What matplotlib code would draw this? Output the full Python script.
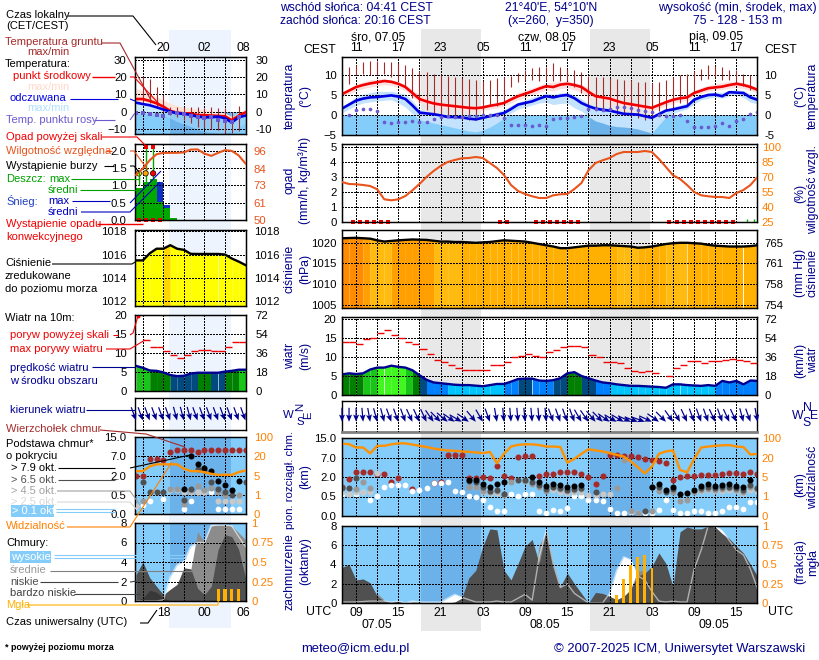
import numpy as np
import matplotlib
matplotlib.use('Agg')
import matplotlib.pyplot as plt
from matplotlib.patches import Rectangle

plt.rcParams['font.family'] = ['Liberation Sans', 'DejaVu Sans']
plt.rcParams['font.size'] = 8.2

W, H = 820, 660
nan = float('nan')

# ---- main meteogram, hourly, hours counted from 07.05 00 UTC ----
hours = np.arange(7, 67)
temp_mid = [5.2,6.1,7.0,7.5,7.9,8.2,8.5,8.3,7.8,7.0,
            5.5,4.0,3.4,2.9,2.6,2.4,2.2,2.0,1.8,1.7,
            1.9,2.3,2.6,3.0,3.9,4.7,5.3,5.9,6.6,7.2,
            7.0,7.6,7.8,7.5,7.0,5.8,4.7,4.4,4.1,3.5,
            3.0,2.7,2.4,2.1,1.8,2.5,3.2,3.8,4.2,4.4,
            5.5,6.1,6.7,6.9,7.1,7.5,7.8,7.5,7.0,6.3]
temp_max = [5.4,6.5,7.6,8.3,8.8,9.0,9.0,8.8,8.3,7.6,
            6.4,5.0,4.2,3.6,3.2,3.0,2.8,2.6,2.4,2.2,
            2.3,2.6,3.0,3.4,4.6,5.6,6.2,6.8,7.4,8.0,
            8.2,8.4,8.5,8.2,7.6,6.8,5.5,5.0,4.6,4.0,
            3.5,3.2,2.9,2.6,2.2,3.0,3.7,4.3,4.6,5.0,
            6.1,6.9,7.4,7.8,8.1,8.4,8.4,8.2,7.6,6.7]
temp_min = [4.6,5.3,6.0,6.6,7.0,7.3,7.6,7.4,6.9,6.0,
            4.5,3.2,2.6,2.1,1.8,1.6,1.4,1.2,1.0,1.0,
            1.2,1.5,1.8,2.2,3.0,3.8,4.4,5.0,5.7,6.2,
            6.0,6.6,6.8,6.3,5.6,4.6,3.7,3.4,3.2,2.6,
            2.2,1.9,1.6,1.3,1.0,1.6,2.4,3.0,3.4,3.6,
            4.7,5.4,5.9,6.2,6.4,6.7,6.9,6.6,6.1,5.5]
feel_mid = [1.6,2.6,3.6,4.1,4.4,4.5,4.7,4.9,4.6,4.0,
            2.4,0.6,0.4,0.2,-0.1,-0.5,-0.5,-0.6,-0.9,-1.1,
            -0.7,-0.3,0.1,0.5,1.5,2.6,3.0,3.4,4.1,4.7,
            4.4,4.8,5.0,4.2,3.0,2.2,1.6,1.3,1.1,0.7,
            0.3,0.2,0.1,-0.3,-0.7,0.2,1.1,1.4,1.8,2.2,
            3.8,4.5,5.0,5.1,4.7,5.7,5.6,5.5,4.4,3.8]
feel_max = [2.0,3.2,4.6,5.2,5.6,5.9,5.9,5.9,5.6,5.2,
            3.6,1.4,0.9,0.5,0.2,-0.2,-0.1,-0.2,-0.4,-0.6,
            -0.2,0.3,0.8,1.3,2.4,3.2,3.8,4.4,5.0,5.4,
            5.2,5.5,5.7,5.0,4.0,2.9,2.2,2.0,1.6,1.2,
            0.8,0.7,0.6,0.2,-0.2,0.9,1.6,2.0,2.5,3.0,
            4.6,5.1,5.6,5.8,5.6,6.2,6.3,6.1,5.2,4.4]
feel_min = [0.5,1.5,2.4,3.0,3.3,3.5,3.7,3.8,3.0,2.0,
            0.3,-1.2,-1.6,-2.0,-2.4,-2.8,-3.2,-3.6,-4.0,-4.2,
            -3.8,-3.0,-2.0,-0.8,0.5,1.5,2.0,2.5,3.0,3.2,
            2.6,2.9,3.0,1.8,1.0,-0.4,-1.5,-2.0,-2.6,-2.9,
            -3.0,-3.2,-3.5,-4.0,-4.5,-2.5,-0.5,0.4,1.0,1.5,
            2.8,3.8,4.2,4.5,4.2,4.8,5.0,4.4,3.2,2.8]
dew = [nan,0.1,1.2,1.6,1.6,1.0,-1.7,-2.0,-1.8,-1.8,
       -1.6,-1.8,-1.8,-1.0,-0.5,-0.3,-0.5,-0.5,-0.3,-0.3,
       -0.1,0.1,-0.1,-0.7,-2.5,-2.5,-2.5,-2.8,-2.6,-2.8,
       -1.0,-0.75,-0.7,-0.5,-0.3,1.6,1.6,1.3,1.6,1.9,
       1.9,1.7,1.2,0.9,0.7,0.1,-0.3,-0.3,0.1,-1.5,
       -2.9,-2.9,-2.9,-2.7,-2.1,-2.7,-1.5,-1.0,0.2,0.8]
ground_hi = [nan,12.0,12.6,13.2,13.6,13.4,13.2,13.2,13.0,12.5,
             11.8,10.9,10.8,10.3,9.9,9.7,9.5,9.2,9.0,8.7,
             8.6,8.8,9.2,9.5,9.8,10.5,11.3,11.7,11.9,12.1,
             13.0,11.9,11.5,11.2,10.7,9.7,9.5,9.5,9.2,9.0,
             8.8,8.7,8.3,8.2,8.0,8.2,8.8,9.5,10.0,10.3,
             10.9,11.6,12.4,12.2,11.9,11.3,11.2,10.3,10.1,nan]
ground_lo = [nan,7.75,10.1,10.3,10.1,10.1,10.3,9.5,8.4,7.0,
             4.2,3.0,1.2,0.5,-0.1,-0.3,-0.7,-1.0,-1.2,-1.3,
             0.2,2.2,2.2,3.0,7.0,8.3,8.8,8.8,8.6,8.8,
             8.4,8.4,8.4,7.0,5.5,2.2,1.3,0.9,1.3,0.1,
             0.1,-0.3,-0.7,-1.3,-0.3,0.9,1.1,2.0,3.0,2.2,
             5.5,8.8,9.0,9.4,8.8,8.8,8.0,7.3,6.3,nan]
humidity = [65,63,62.7,62,61,57.7,47.7,46.7,47.7,51,
            56.7,63,70,76,81,85,87,88.7,89,90,
            89,84,79,72,62,56,53,50.7,49,49,
            51.7,52.7,53,58,64,76.7,84,86.7,89,93,
            95,95,95,96,95,88,80,71.7,68,62,
            55,51.7,50.7,50,50,49,54,57,62,70]
conv_times = [8.5,9.5,10.5,11.5,12.5,13.5,29.5,30.5,34.5,35.5,36.5,37.5,38.5,39.5,40.5,
              53.5,54.5,55.5,56.5,57.5,58.5,59.5,60.5,61.5,62.5]
rain_times = [64.5,65.5]
rain_values = [0.2,0.2]
pressure = [1021.1,1021.15,1021.2,1021.1,1021.0,1020.6,1020.3,1020.45,1020.6,1020.7,
            1020.8,1020.75,1020.7,1020.5,1020.3,1020.3,1020.2,1020.2,1020.1,1020.0,
            1020.1,1020.2,1020.4,1020.6,1020.5,1020.4,1020.3,1020.0,1019.7,1019.4,
            1019.1,1018.7,1018.7,1018.9,1019.1,1019.3,1019.3,1019.4,1019.4,1019.3,
            1019.2,1019.1,1018.8,1018.9,1019.1,1019.4,1019.7,1019.9,1020.0,1020.0,
            1019.9,1019.8,1019.5,1019.3,1019.2,1019.1,1019.1,1019.1,1019.2,1019.4]
pressure_cls = [0,0,0,1,3,3,3,1,1,1,
                1,1,1,3,3,3,3,2,2,2,
                2,2,2,2,2,2,2,2,2,2,
                2,2,2,2,2,2,2,2,2,3,
                3,3,2,2,2,2,3,3,3,2,
                2,2,2,2,2,2,2,2,2]
wind = [5.4,5.7,5.5,5.7,6.7,7.2,7.2,7.7,7.4,7.2,
        6.5,5.2,4.0,3.3,3.1,2.9,2.7,2.6,2.6,2.45,
        2.3,2.6,2.9,2.9,3.5,4.2,4.3,4.3,3.8,3.7,
        3.9,4.4,5.7,6.0,5.0,4.4,3.8,3.3,3.1,2.8,
        2.6,2.4,2.4,2.3,2.2,2.1,1.9,2.8,2.8,2.6,
        2.5,2.4,2.6,2.4,3.7,3.3,3.7,2.8,3.8,3.7]
wind_cls = [0,0,0,1,1,2,2,2,2,1,
            0,3,4,4,4,5,5,5,5,5,
            5,5,5,4,4,3,3,4,4,4,
            3,3,0,0,3,3,4,4,5,5,
            5,5,5,5,5,5,5,5,5,5,
            5,5,5,4,4,4,4,4,4]
gust = [13.8,13.8,13.3,14.6,15.1,16.2,17.0,15.9,15.0,14.0,
        13.4,12.2,10.9,9.1,8.6,7.8,7.2,6.7,6.5,6.5,
        6.7,7.8,8.0,8.6,9.9,10.3,10.7,10.3,10.0,11.4,
        11.7,12.5,13.0,13.0,12.5,10.4,9.9,8.7,8.6,8.3,
        7.0,6.2,6.0,6.2,5.9,nan,4.9,7.2,8.0,9.0,
        9.0,8.4,8.9,8.9,9.2,9.5,9.2,8.9,8.4]
wind_dir = [0,0,0,5,10,15,15,20,20,20,
            25,25,25,35,45,50,55,60,55,40,
            30,20,10,5,5,5,5,5,5,5,
            20,20,20,20,30,35,40,45,55,60,
            60,65,70,70,65,55,45,35,30,25,
            20,20,20,25,20,25,25,15,20,10]
top_t = [7,8,9,10,11,12,13,14,15,17,20,21,22,23,24,25,26,27,28,29,30,31,32,33,34,35,36,
         37,38,39,40,41,42,43,44,45,46,47,48,49,50,51,52,53,54,55,56,57,58,59,60,61,62,63,64,65,66]
top_km = [1.2,1.85,3.3,3.2,3.2,2.7,2.7,1.64,1.9,1.1,1.56,1.64,8.1,8.2,7.9,1.9,1.9,2.1,1.9,4.9,2.3,1.9,7.1,7.8,7.6,2.3,2.8,
          2.8,3.2,3.4,3.4,2.8,2.1,1.5,2.2,7.9,7.9,7.7,7.6,7.1,6.7,6.4,6.0,5.6,1.8,2.1,2.3,2.3,2.4,2.5,2.6,2.7,3.1,2.9,2.8,3.2,2.7]
black_t = [25,26,27,28,29,30,34,35,36,37,38,39,40,41,51,52,53,54,55,56,57,58,59,60,61,62,63,64,65]
black_km = [1.77,1.77,1.5,1.25,1.5,1.64,2.1,1.64,1.33,1.5,1.38,1.25,1.33,1.35,1.25,1.5,0.99,1.25,0.73,0.78,0.99,1.33,1.46,1.33,1.38,1.5,1.33,1.2,1.77]
dark_t = [7,8,9,25,26,27,28,29,30,32,33,34,35,36,37,38,39,40,41,43,50,51,52,53,54,58,59,60,61,62,63,64,65,66]
dark_km = [1.12,1.12,1.95,1.72,1.64,1.25,0.91,0.99,0.73,1.77,1.77,1.64,1.38,1.04,1.25,1.12,0.99,1.04,1.12,0.81,0.14,1.25,1.25,0.86,1.04,1.12,1.2,1.12,1.2,1.25,1.12,0.99,1.38,1.12]
gray_t = [9,10,11,25,26,27,28,29,30,31,33,34,35,36,37,38,39,40,41,46,47,48,49,51,52,54,55,56,57,58,59,60,61,62,63,64,65,66]
gray_km = [1.04,1.59,1.12,1.25,1.2,0.94,0.86,0.91,0.68,1.64,1.69,1.5,1.2,0.94,1.2,1.04,0.91,0.99,1.04,1.12,6.4,0.13,0.08,0.14,0.91,0.86,0.38,0.41,0.86,0.99,1.09,0.99,1.04,1.12,0.99,0.86,1.2,1.04]
light_t = [7,8,9,10,11,12,26,27,28,29,30,37,38,39,40,41,42,43,44,45,58,59,60,61,62,63,64,65,66]
light_km = [0.81,0.73,0.86,0.81,0.81,2.95,1.2,0.86,0.78,0.8,0.6,0.99,0.86,0.78,0.83,0.88,0.6,0.6,0.73,0.73,0.9,1.0,0.9,0.95,1.0,0.9,0.8,1.0,0.9]
white_km = [0.655,0.655,0.655,0.81,0.41,0.53,1.25,1.38,1.38,1.38,
            0.91,0.99,1.12,1.51,1.56,1.61,0.91,0.81,0.53,0.48,
            0.41,0.22,0.14,0.13,0.73,0.55,0.73,0.73,0.14,0.08,
            0.15,0.13,0.21,0.55,0.55,0.42,0.42,0.39,0.19,0.08,
            0.08,0.11,0.08,0.08,0.08,0.15,0.42,0.15,0.08,0.08,
            0.13,0.14,0.08,0.08,0.13,0.22,0.22,0.19,0.36,0.36]
visibility = [76.5,75,61,61,37,68,68,74,78,78,
              73,68,63,57,52,49,47.6,45,43,41,
              38,43,15.6,35,65,72,74,74,71,65,
              65,63,16,19,35,54,49,45,38,31,
              24,17,12.5,7.8,13,35,45,49,10.4,8.6,
              18.7,61,65,68,70,71,65,63,32,35]
cloud_low = [3.7,4.0,2.4,2.5,2.1,0.7,0.2,0.1,0.2,0,
             0.1,0.1,0,0,0,0,0.1,0.5,2.6,3.4,
             5.9,7.7,7.6,3.4,2.4,4.1,5.9,6.6,4.1,7.6,
             4.1,1.7,3.1,2.0,1.0,0,1.1,1.0,0.7,0.35,
             0.7,1.4,2.8,3.1,3.8,5.2,4.1,1.7,7.4,7.9,
             7.7,7.7,8.0,7.9,7.2,6.7,5.9,5.2,4.0,2.8]
cloud_mid = [0,0.1,0.5,0.3,0.5,1.0,0.3,0.1,0.1,0,
             0,0,0,0,0,0,0,0,0,0,
             0,0,0.2,0,0,0,0,0.4,6.0,7.3,
             3.0,0.5,0.3,0.2,0,0,0,0,0,0,
             0.5,1.5,3.3,3.4,1.5,0.2,0,0,0,0,
             0,0,0,0,0,0,0,0,0,0]
cloud_high = [0.1,0.1,0.1,0.15,0.2,0.2,0.2,0.1,0.2,0,
              0.2,0.1,0.1,0.1,0.1,0.5,0.9,0.6,0.35,0.1,
              0.1,0.1,0.2,0.1,0.1,0.5,0.9,0.3,4.8,7.6,
              4.0,1.6,2.0,1.0,0.5,0,0,0,1.0,3.4,
              4.8,4.5,2.8,2.4,1.2,0.2,0.1,0.2,0.1,0.1,
              3.5,5.5,8.0,8.0,7.5,6.5,5.5,5.0,3.5,1.5]
fog_t = [46,47,48,49,50,51]
fog = [0.1,0.31,0.5,0.6,0.62,0.46]
nights = [(18.27,26.68),(42.27,50.68)]

# ---- small legend meteogram on the left ----
l_hours = np.arange(14, 31)
l_temp = [7.3,7.3,6.2,4.8,2.9,0.4,-0.6,-1.0,-1.0,-2.0,-2.1,-2.3,-2.5,-2.7,-5.0,-2.3,-0.4]
l_temp_max = [13.5,12.0,10.6,8.6,6.7,4.8,3.3,2.6,1.9,1.4,1.0,0.5,0,-0.8,-2.9,-0.5,0]
l_temp_min = [6.0,6.0,5.0,3.8,1.8,-0.5,-1.5,-1.8,-2.0,-2.8,-3.0,-3.0,-3.2,-3.5,-5.8,-3.2,-1.2]
l_feel = [5.2,4.4,3.7,2.5,1.2,0,-1.0,-1.3,-1.9,-2.9,-3.3,-3.3,-2.9,-3.8,-6.3,-3.3,-2.3]
l_feel_min = [-1.0,-1.0,-1.0,-1.5,-1.9,-3.8,-5.8,-7.2,-8.7,-10.2,-11.5,-12.2,-12.5,-12.5,-11.5,-9.0,-6.7]
l_dew = [-1.0,-1.0,-1.5,-1.9,-2.3,-1.0,-1.0,-1.3,-2.3,-3.3,-3.5,-2.9,-4.8,-5.4,-5.8,-2.9,nan]
l_ground_hi = [nan,20.6,19.2,14.0,9.6,2.9,2.9,2.9,2.9,2.5,2.3,2.5,1.9,1.9,0,3.3,nan]
l_ground_lo = [nan,4.8,4.8,1.9,0,-1.9,-2.9,-4.8,-6.7,-8.7,-9.6,-10.2,-10.6,-12.5,-12.5,-11.5,nan]
l_rain_start = [13,15,16,17,18,19]
l_rain_width = [2,1,1,1,1,1]
l_rain = [0.94,1.1,1.18,0.53,0.34,0.07]
l_snow = [0,0,0,0.57,0.1,0]
l_rain_max_t = [14.4,15.4,16.5]
l_rain_max = [1.35,2.1,2.1]
l_over_t = [15.4,16.5]
l_over = [2.1,2.1]
l_storm_colors = ['yellow','orange','red']
l_storm = [1.35,1.35,1.35]
l_conv_t = [14.5,15.5,16.5,17.5]
l_humidity = [80,84.3,89.8,93.8,94.7,94.7,94.7,95,96.9,97,94.2,92.7,94.7,96.5,96,93,87.6]
l_pressure = [1015.5,1015.5,1016.1,1016.5,1016.5,1016.8,1016.5,1016.4,1016.06,1016.05,1016.05,1016.05,1016.05,1016.0,1015.66,1015.4,1015.1]
l_wind = [6.6,6.1,5.4,5.3,4.9,4.2,3.9,4.0,4.6,4.8,4.8,4.8,4.8,5.1,5.3,5.6,5.6]
l_wind_cls = [1,1,0,0,0,3,3,3,3,0,0,3,3,0,0,1]
l_gust = [nan,13.3,11.5,11.5,10.4,9.5,8.6,9.6,10.4,10.7,10.7,10.4,10.4,11.5,12.8,12.8]
l_gust_over_t = [14.3]
l_gust_over = [19.7]
l_dir = [20,20,20,20,20,20,15,15,15,20,20,20,20,20,20,20,20]
l_top_km = [2,2,6.3,6.3,5.9,8.8,9.8,9.8,9.8,8.8,9.8,9.8,9.8,9.8,9.8,9.8,9.8]
l_black_t = [21,22,23,24,25,26,27,28,29]
l_black_km = [0.93,7,4.9,3.9,3.1,1.55,1.25,0.88,1.55]
l_dark_t = [15,16,17,18,21,22,23,24,25,26,27,28,30]
l_dark_km = [1.5,0.7,0.7,0.7,0.37,0.93,3.75,3.3,1.5,0.93,0.7,0.5,1.5]
l_gray_t = [15,19,20,21,22,23,24,25,26,27,29]
l_gray_km = [0.35,0.93,0.93,0.26,0.88,1.18,0.88,1.0,0.75,0.5,0.5]
l_light_t = [14,19,20,21,22,23,24,26,27,28,29]
l_light_km = [0.21,0.88,0.88,0.75,0.75,0.75,0.75,0.35,0.35,0.35,0.35]
l_white_t = [15,16,18,21,22,23,24,25,26,27,28,29]
l_white_km = [0.24,0.35,0.38,0.12,0.35,0.75,0.75,0.75,0.12,0.12,0.12,0.12]
l_vis = [8.4,8.4,12.1,13.7,13.7,13.7,13.7,10.3,8.4,8.4,7.6,6.3,5.5,5.5,5.5,7.6,8.9]
l_cloud_low = [2.7,4.0,2.4,1.5,0.65,1.2,1.7,3.4,3.3,1.3,0.65,1.5,5.3,6.8,6.6,5.3,2.4]
l_cloud_vlow = [0,0.3,1.1,0.9,0.3,0,0,0,0,0,0,0,0,0,0,0,0]
l_cloud_mid = [0,0,0,0,0,0,0,0.1,3.2,7.1,6.0,7.7,7.8,7.8,7.7,7.0,6.3]
l_cloud_high = [0,0,0,0,0.1,2.5,3.7,4.1,5.6,6.0,6.0,7.8,7.8,7.8,7.7,6.6,5.6]
l_fog_t = [26,27,28,29]
l_fog = [0.15,0.15,0.15,0.15]
l_night = (18.9,27.9)

km_ticks = [0,0.5,2,7,15]
vis_ticks = [0,1,5,20,100]
km_labels = ['0.0','0.5','2.0','7.0','15.0']
vis_labels = ['0','1','5','20','100']
pos = [0,1,2,3,4]
pressure_colors = ['#ff8c00','#ffa000','#ffb000','#ffbb10']
wind_colors = ['#007f00','#19c519','#40f820','#004a80','#0080ff','#00c4ff']
sky = '#84cdfb'
sky_night = '#6cb2ea'
navy = '#00008b'
orange = '#ff8000'
hum_col = '#e8541c'
brown = '#a52a2a'
dot = 19


def rect(x0, y0, x1, y1):
    return [x0/W, 1-y1/H, (x1-x0)/W, (y1-y0)/H]


def style(ax, xlim, ticks, color_labels='black'):
    ax.set_facecolor('none')
    ax.set_xlim(*xlim)
    ax.set_xticks(ticks)
    ax.set_xticklabels([])
    ax.tick_params(length=0, pad=4)
    ax.tick_params(axis='x', labelsize=8.8)
    ax.set_axisbelow(False)
    ax.grid(True, color='black', lw=0.72, ls=(0,(2,2)), antialiased=False)
    for s in ax.spines.values():
        s.set_linewidth(1)


def right_ax(ax, ylim, ticks, labels, color='black', pad=5):
    r = ax.twinx()
    r.set_facecolor('none')
    r.set_ylim(*ylim)
    r.set_yticks(ticks)
    r.set_yticklabels(labels, color=color)
    r.tick_params(length=0, pad=pad)
    return r


def strips(ax, t, values, cls, colors, base):
    # one polygon per hour so the colour can change along the curve
    for i in range(len(t)-1):
        ax.fill_between(t[i:i+2], base, values[i:i+2], color=colors[cls[i]], lw=0, zorder=1, antialiased=False)


def km_scale(ax, vis=False):
    src = vis_ticks if vis else km_ticks
    ax.set_yscale('function', functions=(lambda v: np.interp(v, src, pos), lambda p: np.interp(p, pos, src)))
    ax.minorticks_off()


fig = plt.figure(figsize=(W/100, H/100), dpi=100, facecolor='white')

# page background with the night bands
bg = fig.add_axes([0,0,1,1], zorder=-1)
bg.set_xlim(0,W); bg.set_ylim(H,0); bg.axis('off')
for a, b in nights:
    x0 = 342+(a-7)*7.04
    x1 = 342+(b-7)*7.04
    bg.add_patch(Rectangle((x0,29), x1-x0, 602, color='#e8e8e8', lw=0))
lx0 = 135+(l_night[0]-13.85)*6.8
lx1 = 135+(l_night[1]-13.85)*6.8
bg.add_patch(Rectangle((lx0,30), lx1-lx0, 598, color='#edf4fe', lw=0))

# ---------------- main panels ----------------
xl = (7,66)
xt = np.arange(9,66,3)
top_labels = ['11' if h%24==9 else '17' if h%24==15 else '23' if h%24==21 else '05' if h%24==3 else '' for h in xt]
bot_labels = ['%02d' % (h%24) if h%6==3 else '' for h in xt]

ax = fig.add_axes(rect(342,57,757.5,135))
style(ax, xl, xt)
ax.set_ylim(-5,14.5)
ax.set_yticks([-5,0,5,10])
ax.axhspan(-5,0,color=sky,lw=0,zorder=0.5)
ax.axvspan(*nights[1],ymax=5/19.5,color=sky_night,lw=0,zorder=0.6)
ax.fill_between(hours,temp_min,temp_max,color='#fde0e0',lw=0,zorder=1)
ax.fill_between(hours,feel_min,feel_max,color='#c2e2fd',lw=0,zorder=1.1)
ax.vlines(hours,ground_lo,ground_hi,color=brown,lw=0.8,zorder=3)
ax.plot(hours,temp_mid,color='#f00000',lw=1.9,zorder=4)
ax.plot(hours,feel_mid,color='#0000e0',lw=1.9,zorder=4)
ax.scatter(hours,dew,s=7,color='#6a5acd',lw=0,zorder=5)
ax.xaxis.set_ticks_position('top')
ax.set_xticklabels(top_labels)
ax.tick_params(axis='x',pad=2)
right_ax(ax,(-5,14.5),[-5,0,5,10],['-5','0','5','10'])

ax = fig.add_axes(rect(342,144,757.5,222))
style(ax, xl, xt)
ax.set_ylim(0,5.2)
ax.set_yticks([0,1,2,3,4,5])
ax.scatter(conv_times,np.zeros(len(conv_times)),s=5,marker='s',color='#e00000',lw=0,zorder=4,clip_on=False)
ax.vlines(rain_times,0,rain_values,color='#00b000',lw=1,zorder=4)
r = right_ax(ax,(25,103),[25,40,55,70,85,100],['25','40','55','70','85','100'],color=orange,pad=3)
r.plot(hours,humidity,color=hum_col,lw=1.5,zorder=4)

ax = fig.add_axes(rect(342,230,757.5,308))
style(ax, xl, xt)
ax.set_ylim(1004.2,1023.1)
ax.set_yticks([1005,1010,1015,1020])
strips(ax,hours,pressure,pressure_cls,pressure_colors,1004.2)
ax.plot(hours,pressure,color='black',lw=1.7,zorder=4)
right_ax(ax,(1004.2,1023.1),[1005,1010,1015,1020],['754','758','761','765'])

ax = fig.add_axes(rect(342,317,757.5,395))
style(ax, xl, xt)
ax.set_ylim(0,20.5)
ax.set_yticks([0,5,10,15,20])
strips(ax,hours,wind,wind_cls,wind_colors,0)
ax.plot(hours,wind,color='#000090',lw=1.7,zorder=4)
ax.hlines(gust,hours[:-1],hours[1:],color='#f00000',lw=1,zorder=3)
right_ax(ax,(0,20.5),[0,5,10,15,20],['0','18','36','54','72'])

ax = fig.add_axes(rect(342,401,757.5,432))
style(ax, xl, xt)
ax.set_ylim(0,1)
ax.set_yticks([])
rad = np.radians(wind_dir)
ax.quiver(hours,np.full(60,0.33),14*np.sin(rad),-14*np.cos(rad),pivot='tip',angles='uv',scale_units='dots',scale=1,
          units='dots',width=1.2,headwidth=5,headlength=6,headaxislength=5,color='#000090',zorder=4,clip_on=False)
ax.spines['bottom'].set_color('#808080')
ax.spines['bottom'].set_linewidth(2)

ax = fig.add_axes(rect(342,438,757.5,516))
ax.set_yscale('linear')
style(ax, xl, xt)
km_scale(ax)
ax.set_ylim(0,15)
ax.set_yticks(km_ticks)
ax.set_yticklabels(km_labels)
ax.axhspan(0,15,color=sky,lw=0,zorder=0.5)
for a, b in nights:
    ax.axvspan(a,b,color=sky_night,lw=0,zorder=0.6)
ax.scatter(top_t,top_km,s=dot,color=brown,lw=0,zorder=3)
ax.scatter(hours,white_km,s=dot-2,color='white',lw=0,zorder=3.1)
ax.scatter(light_t,light_km,s=dot,color='#c8c8c8',lw=0,zorder=3.2)
ax.scatter(gray_t,gray_km,s=dot,color='#9a9a9a',lw=0,zorder=3.3)
ax.scatter(dark_t,dark_km,s=dot,color='#505050',lw=0,zorder=3.4)
ax.scatter(black_t,black_km,s=dot,color='black',lw=0,zorder=3.5)
r = ax.twinx()
r.set_facecolor('none')
km_scale(r,True)
r.set_ylim(0,100)
r.set_yticks(vis_ticks)
r.set_yticklabels(vis_labels,color=orange)
r.tick_params(length=0,pad=3)
r.minorticks_off()
r.plot(hours,visibility,color='#ff9000',lw=1.7,zorder=2)

ax = fig.add_axes(rect(342,526,757.5,603))
style(ax, xl, xt)
ax.set_ylim(0,8)
ax.set_yticks([0,2,4,6,8])
ax.axhspan(0,8,color=sky,lw=0,zorder=0.5)
for a, b in nights:
    ax.axvspan(a,b,color=sky_night,lw=0,zorder=0.6)
ax.fill_between(hours,cloud_high,color='white',lw=0,zorder=1)
ax.fill_between(hours,cloud_mid,color='#8c8c8c',lw=0,zorder=1.1)
ax.fill_between(hours,cloud_low,color='#505050',lw=0,zorder=1.2)
ax.plot(hours,cloud_high,color='white',lw=1,alpha=0.55,zorder=2)
ax.set_xticklabels(bot_labels)
ax.tick_params(axis='x',pad=3)
r = right_ax(ax,(0,1),[0,0.25,0.5,0.75,1],['0','0.25','0.5','0.75','1'],color=orange,pad=3)
r.bar(fog_t,fog,width=0.38,color='#ffb000',lw=0,zorder=3)

# ---------------- left legend panels ----------------
lxl = (13.85,30)
lxt = np.arange(15,30,3)
ltop = ['20' if h==18 else '02' if h==24 else '' for h in lxt]
lbot = ['18' if h==18 else '00' if h==24 else '' for h in lxt]
lbox = (135,245.5)

ax = fig.add_axes(rect(lbox[0],57,lbox[1],134))
style(ax, lxl, lxt)
ax.set_ylim(-13,31.7)
ax.set_yticks([-10,0,10,20,30])
ax.tick_params(axis='y',pad=6)
ax.axhspan(-13,0,color=sky,lw=0,zorder=0.5)
ax.axvspan(*l_night,ymax=13/44.7,color=sky_night,lw=0,zorder=0.6)
ax.fill_between(l_hours,l_temp_min,l_temp_max,color='#fde2d8',lw=0,zorder=1)
ax.fill_between(l_hours,l_feel_min,l_feel,color='#a8dcfc',lw=0,zorder=1.1,alpha=0.6)
ax.vlines(l_hours,l_ground_lo,l_ground_hi,color=brown,lw=0.8,zorder=3)
ax.plot(l_hours,l_temp,color='#f00000',lw=1.9,zorder=4)
ax.plot(l_hours,l_feel,color='#0000e0',lw=1.9,zorder=4)
ax.scatter(l_hours,l_dew,s=7,marker='s',color='#6a5acd',lw=0,zorder=5)
ax.xaxis.set_ticks_position('top')
ax.set_xticklabels(ltop)
ax.tick_params(axis='x',pad=2)
ax.text(29.7,1.04,'08',transform=ax.get_xaxis_transform(),ha='center',va='bottom',fontsize=8.8)
right_ax(ax,(-13,31.7),[-10,0,10,20,30],['-10','0','10','20','30'],pad=7)

ax = fig.add_axes(rect(lbox[0],144,lbox[1],220))
style(ax, lxl, lxt)
ax.set_ylim(0,2.2)
ax.set_yticks([0,0.5,1,1.5,2])
ax.set_yticklabels(['0.0','0.5','1.0','1.5','2.0'])
ax.tick_params(axis='y',pad=6)
ax.bar(l_rain_start,l_rain,width=l_rain_width,align='edge',color='#00a800',lw=0,zorder=1)
ax.bar(l_rain_start,l_snow,width=l_rain_width,bottom=l_rain,align='edge',color='#1030c8',lw=0,zorder=1)
ax.vlines(l_rain_max_t,1,l_rain_max,color='#00a800',lw=1,zorder=3)
ax.scatter(l_rain_max_t,l_storm,s=15,c=l_storm_colors,edgecolors='black',linewidths=0.5,zorder=5)
ax.scatter(l_over_t,l_over,s=8,marker='s',color='#f00000',lw=0,zorder=5,clip_on=False)
ax.scatter(l_conv_t,np.zeros(len(l_conv_t)),s=5,marker='s',color='#e00000',lw=0,zorder=5,clip_on=False)
r = right_ax(ax,(50,100.6),[50,61,73,84,96],['50','61','73','84','96'],color=hum_col,pad=6)
r.plot(l_hours,l_humidity,color=hum_col,lw=1.5,zorder=4)

ax = fig.add_axes(rect(lbox[0],230,lbox[1],306))
style(ax, lxl, lxt)
ax.set_ylim(1011.6,1018.1)
ax.set_yticks([1012,1014,1016,1018])
ax.tick_params(axis='y',pad=6)
l_pcol = ['#ffff00','#ffd700']
strips(ax,l_hours,l_pressure,[0,0,0,0,1]+[0]*11,l_pcol,1011.6)
ax.plot(l_hours,l_pressure,color='black',lw=1.7,zorder=4)
right_ax(ax,(1011.6,1018.1),[1012,1014,1016,1018],['1012','1014','1016','1018'],pad=6)

ax = fig.add_axes(rect(lbox[0],315,lbox[1],391))
style(ax, lxl, lxt)
ax.set_ylim(0,20)
ax.set_yticks([0,5,10,15,20])
ax.tick_params(axis='y',pad=6)
strips(ax,l_hours,l_wind,l_wind_cls,wind_colors,0)
ax.plot(l_hours,l_wind,color='#000090',lw=1.7,zorder=4)
ax.hlines(l_gust,l_hours[:-1],l_hours[1:],color='#f00000',lw=1,zorder=3)
ax.scatter(l_gust_over_t,l_gust_over,s=8,color='#f00000',lw=0,zorder=5)
right_ax(ax,(0,20),[0,5,10,15,20],['0','18','36','54','72'],pad=7)

ax = fig.add_axes(rect(lbox[0],398,lbox[1],430))
style(ax, lxl, lxt)
ax.set_ylim(0,1)
ax.set_yticks([])
rad = np.radians(l_dir)
ax.quiver(l_hours,np.full(17,0.3),14*np.sin(rad),-14*np.cos(rad),pivot='tip',angles='uv',scale_units='dots',scale=1,
          units='dots',width=1.2,headwidth=5,headlength=6,headaxislength=5,color='#000090',zorder=4,clip_on=False)

ax = fig.add_axes(rect(lbox[0],437,lbox[1],514))
style(ax, lxl, lxt)
km_scale(ax)
ax.set_ylim(0,15)
ax.set_yticks(km_ticks)
ax.set_yticklabels(km_labels)
ax.tick_params(axis='y',pad=6)
ax.axhspan(0,15,color=sky,lw=0,zorder=0.5)
ax.axvspan(*l_night,color=sky_night,lw=0,zorder=0.6)
ax.scatter(l_hours,l_top_km,s=dot,color=brown,lw=0,zorder=3)
ax.scatter(l_white_t,l_white_km,s=dot-2,color='white',lw=0,zorder=3.1)
ax.scatter(l_light_t,l_light_km,s=dot,color='#c8c8c8',lw=0,zorder=3.2)
ax.scatter(l_gray_t,l_gray_km,s=dot,color='#9a9a9a',lw=0,zorder=3.3)
ax.scatter(l_dark_t,l_dark_km,s=dot,color='#505050',lw=0,zorder=3.4)
ax.scatter(l_black_t,l_black_km,s=dot,color='black',lw=0,zorder=3.5)
r = ax.twinx()
r.set_facecolor('none')
km_scale(r,True)
r.set_ylim(0,100)
r.set_yticks(vis_ticks)
r.set_yticklabels(vis_labels,color=orange)
r.tick_params(length=0,pad=6)
r.minorticks_off()
r.plot(l_hours,l_vis,color='#ff9000',lw=1.7,zorder=2)

ax = fig.add_axes(rect(lbox[0],523,lbox[1],601))
style(ax, lxl, lxt)
ax.set_ylim(0,8)
ax.set_yticks([0,2,4,6,8])
ax.tick_params(axis='y',pad=6)
ax.axhspan(0,8,color=sky,lw=0,zorder=0.5)
ax.axvspan(*l_night,color=sky_night,lw=0,zorder=0.6)
ax.fill_between(l_hours,l_cloud_high,color='white',lw=0,zorder=1)
ax.fill_between(l_hours,l_cloud_mid,color='#8c8c8c',lw=0,zorder=1.1)
ax.fill_between(l_hours,l_cloud_low,color='#505050',lw=0,zorder=1.2)
ax.fill_between(l_hours,l_cloud_vlow,color='#383838',lw=0,zorder=1.3)
ax.plot(l_hours,l_cloud_high,color='white',lw=1,alpha=0.6,zorder=2)
ax.set_xticklabels(lbot)
ax.tick_params(axis='x',pad=4)
ax.text(29.7,-0.075,'06',transform=ax.get_xaxis_transform(),ha='center',va='top',fontsize=8.8)
r = right_ax(ax,(0,1),[0,0.25,0.5,0.75,1],['0','0.25','0.5','0.75','1'],color=orange,pad=4)
r.bar(l_fog_t,l_fog,width=0.45,color='#ffb000',lw=0,zorder=3)

# ---------------- texts and leader lines, pixel coordinates ----------------
ov = fig.add_axes([0,0,1,1], zorder=50)
ov.set_xlim(0,W); ov.set_ylim(H,0); ov.axis('off'); ov.patch.set_alpha(0)


def T(x, y, s, color='black', ha='left', size=8.0, **kw):
    ov.text(x, y, s, color=color, ha=ha, va='center', fontsize=size, **kw)


def L(xs, ys, color='black', lw=0.8):
    ov.plot(xs, ys, color=color, lw=lw, solid_capstyle='butt')


# header and footer
T(280,8,'wschód słońca: 04:41 CEST',navy,size=8.7)
T(280,21,'zachód słońca: 20:16 CEST',navy,size=8.7)
T(551,8,"21°40'E, 54°10'N",navy,ha='center',size=8.8)
T(551,21,'(x=260,  y=350)',navy,ha='center',size=8.8)
T(817,8,'wysokość (min, środek, max)',navy,ha='right',size=8.8)
T(738,21,'75 - 128 - 153 m',navy,ha='center',size=8.8)
T(378,37,'śro, 07.05',ha='center',size=8.8)
T(547,37,'czw, 08.05',ha='center',size=8.8)
T(716,37,'pią, 09.05',ha='center',size=8.8)
T(320,50,'CEST',ha='center',size=8.8)
T(781,50,'CEST',ha='center',size=8.8)
T(319,612,'UTC',ha='center',size=8.8)
T(781,612,'UTC',ha='center',size=8.8)
T(377,625,'07.05',ha='center',size=8.8)
T(545,625,'08.05',ha='center',size=8.8)
T(714,625,'09.05',ha='center',size=8.8)
T(355,649,'meteo@icm.edu.pl',navy,ha='center',size=9.4)
T(680,649,'© 2007-2025 ICM, Uniwersytet Warszawski',navy,ha='center',size=9.4)
T(5,648,'* powyżej poziomu morza',size=6.4,fontweight='bold')

# rotated axis names
rot_left = [(290,96,'temperatura'),(305,96,'(°C)'),(290,180,'opad'),(305,180,'(mm/h, kg/m³/h)'),
            (290,269,'ciśnienie'),(305,269,'(hPa)'),(290,356,'wiatr'),(305,356,'(m/s)'),
            (290,480,'pion. rozciągł. chm.'),(305,477,'(km)'),(290,572,'zachmurzenie'),(305,561,'(oktanty)')]
rot_right = [(800,96,'(°C)'),(813,96,'temperatura'),(800,193,'(%)'),(813,190,'wilgotność wzgl.'),
             (800,273,'(mm Hg)'),(813,273,'ciśnienie'),(800,360,'(km/h)'),(813,360,'wiatr'),
             (800,485,'(km)'),(813,477,'widzialność'),(800,562,'(frakcja)'),(813,562,'mgła')]
for x, y, s in rot_left + rot_right:
    T(x,y,s,navy,ha='center',size=8.2 if s.startswith('pion') else 8.8,rotation=90)
T(288,415,'W',navy,ha='center',size=8.2)
T(300,407,'N',navy,ha='center',size=8.2,rotation=90)
T(300,422,'S',navy,ha='center',size=8.2)
T(308,415,'E',navy,ha='center',size=8.2,rotation=90)
T(798,416,'W',navy,ha='center',size=8.8)
T(807,408,'N',navy,ha='center',size=8.8)
T(807,423,'S',navy,ha='center',size=8.8)
T(814,416,'E',navy,ha='center',size=8.8)

# left legend labels
legend_items = [
    (6,15,'Czas lokalny','black'),(6,26,'(CET/CEST)','black'),
    (5,42,'Temperatura gruntu',brown),(27,52,'max/min',brown),
    (5,64,'Temperatura:','black'),(13,76,'punkt środkowy','#f00000'),(27,87,'max/min','#ffd9cc'),
    (10,98,'odczuwana','#0000e0'),(27,108,'max/min','#b0e0ff'),(6,120,'Temp. punktu rosy','#6a5acd'),
    (6,137,'Opad powyżej skali','#f00000'),(6,151,'Wilgotność względna',hum_col),
    (6,166,'Wystąpienie burzy','black'),(6,179,'Deszcz:','#00a000'),(49,179,'max','#00a000'),
    (48,190,'średni','#00a000'),(6,201,'Śnieg:','#2040c0'),(48,201,'max','#0000c0'),(48,212,'średni','#0000c0'),
    (6,224,'Wystąpienie opadu','#f00000'),(6,237,'konwekcyjnego','#f00000'),
    (5,263,'Ciśnienie','black'),(5,276,'zredukowane','black'),(5,289,'do poziomu morza','black'),
    (5,318,'Wiatr na 10m:','black'),(10,335,'poryw powyżej skali','#f00000'),(10,349,'max porywy wiatru','#f00000'),
    (10,368,'prędkość wiatru','#000090'),(10,381,'w środku obszaru','#000090'),(10,410,'kierunek wiatru','#000090'),
    (6,429,'Wierzchołek chmur',brown),(6,444,'Podstawa chmur*','black'),(6,456,'o pokryciu','black'),
    (11,468,'> 7.9 okt.','black'),(11,480,'> 6.5 okt.','#505050'),(11,491,'> 4.5 okt.','#a0a0a0'),
    (11,502,'> 2.5 okt.','#d8d8d8'),(6,526,'Widzialność',orange),(6,543,'Chmury:','black'),
    (10,570,'średnie','#9a9a9a'),(10,582,'niskie','#505050'),(10,593,'bardzo niskie','#404040'),
    (6,605,'Mgła','#ffb000'),(6,622,'Czas uniwersalny (UTC)','black'),
]
for x, y, s, c in legend_items:
    T(x,y,s,c)
ov.add_patch(Rectangle((11,505),43,12,color=sky,lw=0))
T(12,511,'> 0.1 okt.','white')
ov.add_patch(Rectangle((10,551),41,12,color=sky,lw=0))
T(11,557,'wysokie','white')

L([68,133,156],[16,16,45])
L([102,120,152],[43,43,102],brown)
L([92,115],[77,77],'#f00000',1)
L([130,134,160],[77,77,105],'#f00000')
L([70,118],[99,99],'#0000e0')
L([130,135],[99,101],'#0000e0')
L([94,115],[120,120],'#6a5acd')
L([130,135],[120,113],'#6a5acd')
L([102,137,146],[137,137,146],'#f00000')
L([106,112],[151,151],hum_col)
L([130,134,148],[151,151,170],hum_col)
L([104,114],[166,166])
L([130,134,139],[166,166,172])
L([71,139,139],[179,179,172],'#00a000')
L([80,150],[190,190],'#00a000')
L([72,110],[201,201],'#0000c0')
L([130,161],[203,171],'#0000c0')
L([81,130,160],[212,212,182],'#0000c0')
L([97,143],[224,224],'#f00000',1)
L([52,132,135],[264,264,262])
L([113,118],[335,335],'#f00000')
L([130,133,138],[335,333,316],'#f00000')
L([106,130,145],[349,349,340],'#f00000')
L([92,135],[367,367],'#000090')
L([86,135],[410,410],'#000090')
L([100,146,185],[430,434,447],brown)
L([58,115],[468,468])
L([130,190],[468,455])
L([58,115],[480,480],'#505050')
L([57,130,140],[491,491,505],'#a0a0a0')
L([57,130,137],[502,502,510],'#d8d8d8')
L([56,115],[509,509],sky)
L([56,115],[512,512],sky)
L([67,130,172],[527,527,462],orange)
L([54,186],[555,555],sky)
L([54,186],[558,558],sky)
L([50,193],[571,571],'#808080')
L([40,118],[582,582],'#404040')
L([130,137],[582,581],'#404040')
L([74,140],[594,594],'#404040')
L([27,218,219],[605,605,590],'#ffb000')
L([140,148,157],[623,623,610])

plt.savefig('out.png', dpi=100, facecolor='white')
